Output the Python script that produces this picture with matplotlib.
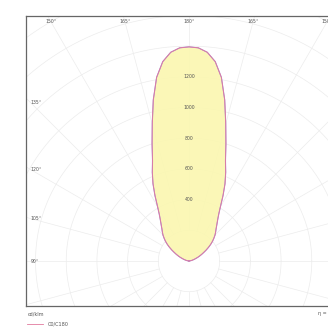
import numpy as np
import matplotlib
matplotlib.use('Agg')
import matplotlib.pyplot as plt

# 配光データ（鉛直角 0°=真下 からの角度, cd/klm）
gamma = [0, 2.5, 5, 7.5, 10, 12.5, 15, 17.5, 20, 22.5, 25, 27.5, 30, 32.5, 35, 37.5, 40,
         42.5, 45, 47.5, 50, 52.5, 55, 57.5, 60, 62.5, 65, 67.5, 70, 72.5, 75, 77.5, 80, 85, 90]
c0_c180 = [1395, 1390, 1365, 1310, 1215, 1075, 925, 800, 695, 625, 555, 480, 410, 360, 325, 298, 275,
           257, 240, 220, 200, 178, 155, 132, 110, 92, 75, 60, 45, 35, 25, 17, 10, 3, 0]
c90_c270 = [1395, 1390, 1365, 1310, 1215, 1075, 925, 800, 695, 625, 555, 480, 410, 360, 325, 298, 275,
            257, 240, 220, 200, 178, 155, 132, 110, 92, 75, 60, 45, 35, 25, 17, 10, 3, 0]

r_labels = [400, 600, 800, 1000, 1200]
top_angle_labels = [150, 165, 180, 165, 150]
side_angle_labels = [135, 120, 105, 90]
legend_labels = ['C0/C180', 'C90/C270']


def to_xy(angles, values, sign):
    a = np.radians(angles)
    v = np.asarray(values, dtype=float)
    return sign * v * np.sin(a), v * np.cos(a)


def lobe(values):
    ang = np.array(gamma)
    xl, yl = to_xy(ang[::-1], values[::-1], -1)
    xr, yr = to_xy(ang[1:], values[1:], 1)
    return np.concatenate([xl, xr]), np.concatenate([yl, yr])


def main():
    fig = plt.figure(figsize=(3.28, 3.33), dpi=100)
    # 枠の位置（右端は画像の外まで伸びる）
    ax = fig.add_axes([26 / 328, 27 / 333, 326 / 328, 290 / 333])
    ax.set_xlim(-1062, 1062)
    ax.set_ylim(-293, 1596)
    ax.set_xticks([])
    ax.set_yticks([])
    for s in ax.spines.values():
        s.set_color('#666666')
        s.set_linewidth(0.9)

    grid_c = '#ececec'
    t = np.linspace(0, 2 * np.pi, 400)
    for r in range(200, 2200, 200):
        ax.plot(r * np.cos(t), r * np.sin(t), color=grid_c, lw=0.5, zorder=1)
    for a in range(0, 360, 15):
        ar = np.radians(a)
        ax.plot([200 * np.cos(ar), 2400 * np.cos(ar)], [200 * np.sin(ar), 2400 * np.sin(ar)],
                color=grid_c, lw=0.5, zorder=1)

    # 配光曲線（左右対称）
    x0, y0 = lobe(c0_c180)
    x1, y1 = lobe(c90_c270)
    ax.fill(x0, y0, color='#fbf7b0', alpha=0.9, zorder=2, lw=0)
    l2, = ax.plot(x1, y1, color='#a58fd6', lw=0.8, zorder=3, label=legend_labels[1])
    l1, = ax.plot(x0, y0, color='#e27a9e', lw=0.6, zorder=4, label=legend_labels[0])

    # 縦線上の値ラベル
    for r in r_labels:
        ax.text(0, r, str(r), fontsize=3.3, color='#555555', ha='center', va='center', zorder=5)

    # 角度ラベル
    y_top = 1557
    offs = [-30, -15, 0, 15, 30]
    for lab, o in zip(top_angle_labels, offs):
        ax.text(y_top * np.tan(np.radians(o)), y_top, f'{lab}°', fontsize=3.3,
                color='#555555', ha='center', va='center', zorder=5)
    x_side = 1030
    for lab in side_angle_labels:
        elev = np.radians(lab - 90)
        ax.text(-x_side, x_side * np.tan(elev), f'{lab}°', fontsize=3.3, color='#555555',
                ha='left', va='center', zorder=5)

    fig.text(28 / 328, 1 - 314 / 333, 'cd/klm', fontsize=3.5, color='#555555', va='center')
    fig.text(318 / 328, 1 - 314 / 333, 'η = 100%', fontsize=3.5, color='#555555', va='center')

    fig.legend(handles=[l1, l2], loc='upper left', bbox_to_anchor=(25 / 328, 1 - 319 / 333),
               fontsize=3.5, frameon=False, handlelength=3.3, handletextpad=0.9,
               labelspacing=1.2, borderpad=0, labelcolor='#555555')

    fig.savefig('out.png', dpi=100)


if __name__ == '__main__':
    main()
